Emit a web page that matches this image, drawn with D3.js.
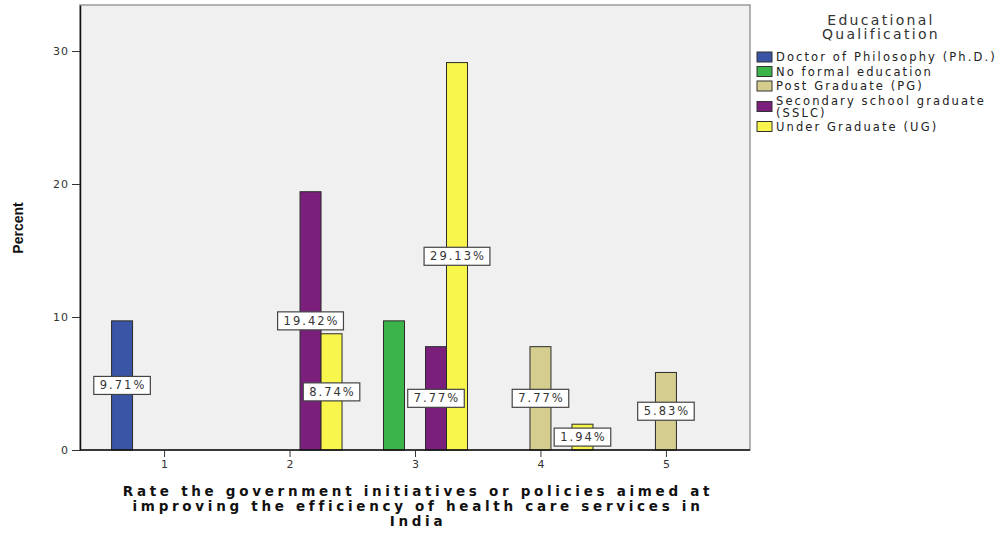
<!DOCTYPE html>
<html><head><meta charset="utf-8">
<script src="https://cdn.jsdelivr.net/npm/d3@7"></script>
<style>
html,body{margin:0;padding:0;background:#fff;}
svg{display:block;}
</style></head>
<body>
<svg id="chart" width="1001" height="533"></svg>
<script>
// ---- data ----
const categories = ["1", "2", "3", "4", "5"];
const seriesNames = [
  "Doctor of Philosophy (Ph.D.)",
  "No formal education",
  "Post Graduate (PG)",
  "Secondary school graduate (SSLC)",
  "Under Graduate (UG)"
];
const legendLines = [
  ["Doctor of Philosophy (Ph.D.)"],
  ["No formal education"],
  ["Post Graduate (PG)"],
  ["Secondary school graduate", "(SSLC)"],
  ["Under Graduate (UG)"]
];
// values per series, one per category (null = no bar)
const phd      = [9.71, null, null, null, null];
const noFormal = [null, null, 9.71, null, null];
const pg       = [null, null, null, 7.77, 5.83];
const sslc     = [null, 19.42, 7.77, null, null];
const ug       = [null, 8.74, 29.13, 1.94, null];
// which bars carry a label
const labelled = [
  [true, false, false, false, false],
  [false, false, false, false, false],
  [false, false, false, true, true],
  [false, true, true, false, false],
  [false, true, true, true, false]
];
const yTicks = [0, 10, 20, 30];
const colors = ["#3a55a6", "#3bb449", "#d5cd8d", "#7a1f7b", "#f8f64d"];
const xTitle = ["Rate the government initiatives or policies aimed at",
                "improving the efficiency of health care services in",
                "India"];
const yTitle = "Percent";
const legendTitle = ["Educational", "Qualification"];

const seriesValues = [phd, noFormal, pg, sslc, ug];

// ---- layout ----
const svg = d3.select("#chart");
const L = 80, R = 750, T = 5, B = 450;

const x = d3.scalePoint().domain(categories).range([L, R]).padding(0.67);
const xs = d3.scaleBand().domain(d3.range(seriesNames.length)).range([-52.5, 52.5]).paddingInner(0);
const y = d3.scaleLinear().domain([0, 33.46]).range([B, T]);

// plot background
svg.append("rect").attr("x", L).attr("y", T).attr("width", R - L).attr("height", B - T)
  .attr("fill", "#f0f0f0").attr("stroke", "#9a9a9a").attr("stroke-width", 1.5);

// bars
const bars = [];
seriesValues.forEach((vals, si) => {
  vals.forEach((v, ci) => {
    if (v != null) bars.push({si, ci, v, lab: labelled[si][ci]});
  });
});
svg.append("g").selectAll("rect").data(bars).join("rect")
  .attr("x", d => x(categories[d.ci]) + xs(d.si))
  .attr("y", d => y(d.v))
  .attr("width", xs.bandwidth())
  .attr("height", d => y(0) - y(d.v))
  .attr("fill", d => colors[d.si])
  .attr("stroke", "#2b2b2b").attr("stroke-width", 1);

// axes
const yAxis = d3.axisLeft(y).tickValues(yTicks).tickSize(8).tickSizeOuter(0).tickPadding(3).tickFormat(d3.format("d"));
const gy = svg.append("g").attr("transform", `translate(${L},0)`).call(yAxis);
gy.select(".domain").attr("stroke", "#111").attr("stroke-width", 1.5);
gy.selectAll(".tick line").attr("stroke", "#333");
gy.selectAll(".tick text").attr("font-family", "DejaVu Sans, sans-serif").attr("font-size", 11)
  .attr("fill", "#333").style("letter-spacing", "1px");

const xAxis = d3.axisBottom(x).tickSize(7).tickSizeOuter(0).tickPadding(3);
const gx = svg.append("g").attr("transform", `translate(0,${B})`).call(xAxis);
gx.select(".domain").attr("stroke", "#111").attr("stroke-width", 1.5).attr("d", `M${L},0H${R}`);
gx.selectAll(".tick line").attr("stroke", "#333");
gx.selectAll(".tick text").attr("font-family", "DejaVu Sans, sans-serif").attr("font-size", 11).attr("fill", "#333");

// data labels
const lg = svg.append("g");
bars.filter(d => d.lab).forEach(d => {
  const cx = x(categories[d.ci]) + xs(d.si) + xs.bandwidth() / 2;
  const cy = y(d.v / 2);
  const g = lg.append("g");
  const rect = g.append("rect");
  const t = g.append("text").attr("x", cx + 1).attr("y", cy).attr("text-anchor", "middle")
    .attr("dominant-baseline", "central")
    .attr("font-family", "DejaVu Sans, sans-serif").attr("font-size", 11.5).attr("fill", "#333")
    .style("letter-spacing", "2px")
    .text(d.v.toFixed(2) + "%");
  const w = t.node().getComputedTextLength() + 10;
  rect.attr("x", cx - w / 2).attr("y", cy - 9).attr("width", w).attr("height", 18)
    .attr("fill", "#fff").attr("stroke", "#444").attr("stroke-width", 1.2);
});

// y title
svg.append("text").attr("transform", `translate(23,228) rotate(-90)`)
  .attr("text-anchor", "middle").attr("font-family", "Liberation Sans Narrow, Liberation Sans, Arial, sans-serif")
  .attr("font-weight", "bold").attr("font-size", 14).attr("fill", "#111").text(yTitle);

// x title
svg.append("g").selectAll("text").data(xTitle).join("text")
  .attr("x", 418).attr("y", (d, i) => 496 + i * 15).attr("text-anchor", "middle")
  .attr("font-family", "DejaVu Sans, sans-serif").attr("font-weight", "bold").attr("font-size", 13.5)
  .attr("fill", "#111").style("letter-spacing", "3.7px").text(d => d);

// legend
svg.append("g").selectAll("text").data(legendTitle).join("text")
  .attr("x", 881).attr("y", (d, i) => 25 + i * 14).attr("text-anchor", "middle")
  .attr("font-family", "DejaVu Sans, sans-serif").attr("font-size", 14).attr("fill", "#333")
  .style("letter-spacing", "2.3px").text(d => d);

let cy = 57;
legendLines.forEach((lines, i) => {
  const h = lines.length === 1 ? 14.5 : 26;
  const center = lines.length === 1 ? cy : cy + 6;
  svg.append("rect").attr("x", 757).attr("y", center - 5).attr("width", 15).attr("height", 10)
    .attr("fill", colors[i]).attr("stroke", "#333").attr("stroke-width", 1);
  lines.forEach((ln, j) => {
    svg.append("text").attr("x", 776).attr("y", cy + j * 12).attr("dominant-baseline", "central")
      .attr("font-family", "DejaVu Sans, sans-serif").attr("font-size", 11.5).attr("fill", "#222")
      .style("letter-spacing", "2.1px").text(ln);
  });
  cy += h;
});
</script>
</body></html>
